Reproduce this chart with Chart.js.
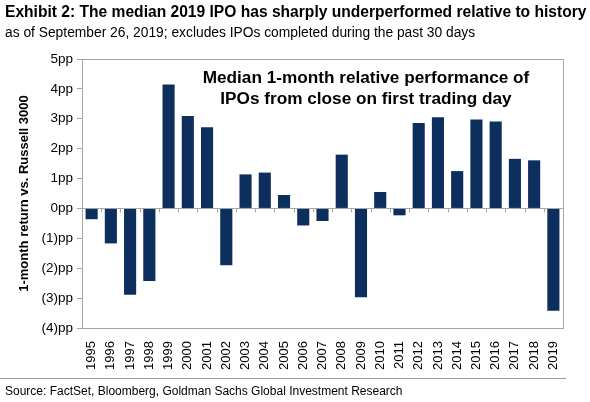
<!DOCTYPE html>
<html>
<head>
<meta charset="utf-8">
<script src="https://cdn.jsdelivr.net/npm/chart.js@4"></script>
<style>
  html, body { margin:0; padding:0; background:#fff; }
  body { width:590px; height:402px; position:relative; overflow:hidden; font-family:"Liberation Sans", Arial, sans-serif; color:#000; }
  #wrap { position:absolute; left:0; top:0; width:590px; height:402px; }
  .txt { position:absolute; white-space:nowrap; }
  #title { left:5px; top:3px; font-size:15.6px; font-weight:bold; }
  #sub { left:5px; top:25px; font-size:13.8px; }
  #note { left:190px; top:67px; width:352px; text-align:center; font-size:17.2px; font-weight:bold; line-height:21px; }
  #rule { position:absolute; left:0; top:378px; width:566px; height:0; border-top:1px solid #999; }
  #src { left:5px; top:384px; font-size:12px; }
</style>
</head>
<body>
<div id="wrap"><canvas id="chart" width="590" height="402"></canvas></div>
<div class="txt" id="title">Exhibit 2: The median 2019 IPO has sharply underperformed relative to history</div>
<div class="txt" id="sub">as of September 26, 2019; excludes IPOs completed during the past 30 days</div>
<div class="txt" id="note">Median 1-month relative performance of<br>IPOs from close on first trading day</div>
<div id="rule"></div>
<div class="txt" id="src">Source: FactSet, Bloomberg, Goldman Sachs Global Investment Research</div>

<script>
// anos e mediana do retorno relativo (pp)
const anos = ["1995","1996","1997","1998","1999","2000","2001","2002","2003","2004","2005","2006",
  "2007","2008","2009","2010","2011","2012","2013","2014","2015","2016","2017","2018","2019"];
const mediana = [-0.36,-1.17,-2.89,-2.43,4.15,3.09,2.72,-1.9,1.14,1.2,0.45,-0.57,
  -0.42,1.8,-2.97,0.55,-0.23,2.86,3.05,1.25,2.98,2.91,1.66,1.61,-3.42];
const yMin = -4, yMax = 5;

const cinza = "#a6a6a6";
const fonte = "'Liberation Sans', Arial, sans-serif";

function fmtPP(v){
  if (v < 0) return "(" + Math.abs(v) + ")pp";
  return v + "pp";
}

// moldura + marcas na linha do zero
const molduraPlugin = {
  id: "moldura",
  afterDraw(chart){
    const ctx = chart.ctx;
    const a = chart.chartArea;
    const x = chart.scales.x;
    const y0 = chart.scales.y.getPixelForValue(0);
    ctx.save();
    ctx.strokeStyle = cinza;
    ctx.lineWidth = 1;
    ctx.beginPath();
    ctx.moveTo(a.left, a.top + 0.5);
    ctx.lineTo(a.right + 0.5, a.top + 0.5);
    ctx.lineTo(a.right + 0.5, a.bottom);
    ctx.stroke();
    const passo = (x.getPixelForValue(1) - x.getPixelForValue(0));
    ctx.beginPath();
    for (let i = 0; i <= anos.length; i++){
      const px = Math.round(x.getPixelForValue(i) - passo/2) + 0.5;
      ctx.moveTo(px, y0);
      ctx.lineTo(px, y0 + 4);
    }
    ctx.stroke();
    ctx.restore();
  }
};

new Chart(document.getElementById("chart"), {
  type: "bar",
  data: {
    labels: anos,
    datasets: [{
      data: mediana,
      backgroundColor: "#0c2f5e",
      barPercentage: 0.63,
      categoryPercentage: 1
    }]
  },
  options: {
    responsive: false,
    animation: false,
    layout: { padding: { top: 59, right: 27, left: 0, bottom: 0 } },
    plugins: { legend: { display:false }, tooltip: { enabled:false } },
    scales: {
      x: {
        grid: { display:false },
        border: { display:true, color:cinza, width:1 },
        ticks: {
          minRotation: 90, maxRotation: 90, autoSkip: false, padding: 5,
          color: "#000",
          font: { family: fonte, size: 13 }
        },
        afterFit(scale){ scale.height = 402 - 328; }
      },
      y: {
        min: yMin, max: yMax,
        grid: {
          drawOnChartArea: true,
          color: c => (c.tick && c.tick.value === 0) ? cinza : "rgba(0,0,0,0)",
          tickColor: cinza, tickLength: 5, drawTicks: true
        },
        border: { display:true, color:cinza, width:1 },
        ticks: {
          stepSize: 1, padding: 4, color: "#000",
          font: { family: fonte, size: 13.5 },
          callback: v => fmtPP(v)
        },
        title: {
          display: true,
          text: "1-month return vs. Russell 3000",
          color: "#000",
          padding: { top: 17, bottom: 0 },
          font: { family: fonte, size: 13, weight: "bold" }
        },
        afterFit(scale){ scale.width = 82; }
      }
    }
  },
  plugins: [molduraPlugin]
});
</script>
</body>
</html>
